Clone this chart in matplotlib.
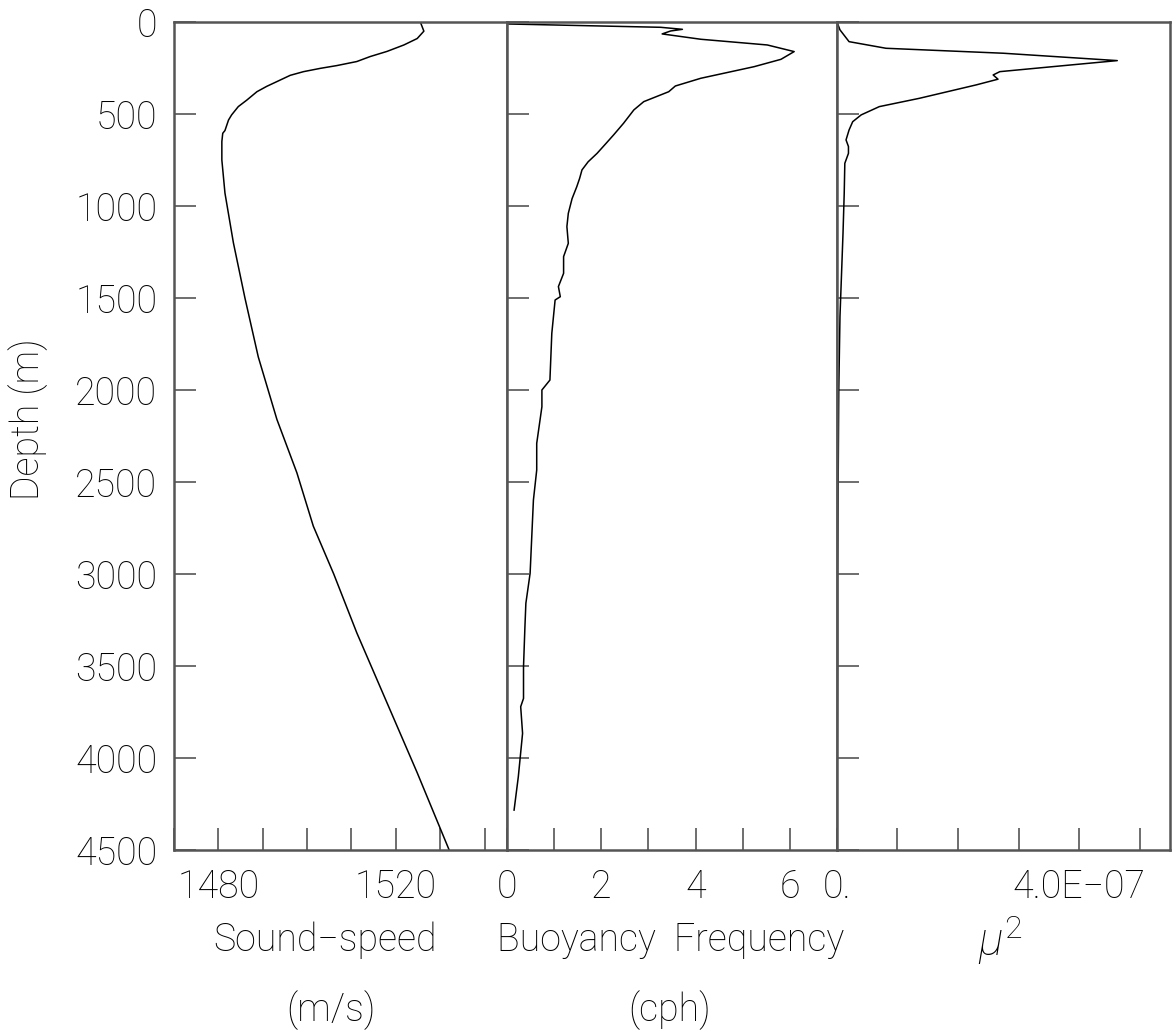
import numpy as np
import matplotlib
matplotlib.use("Agg")
import matplotlib.pyplot as plt

# sound-speed profile (m/s)
c_depth = [0, 50, 90, 125, 160, 188, 215, 237, 252, 270, 290, 324, 350, 379,
           425, 460, 505, 533, 590, 605, 650, 750, 930, 1200, 1500, 1820,
           2160, 2450, 2740, 3000, 3320, 3700, 4080, 4500]
c_speed = [1525.5, 1526.3, 1524.8, 1521.8, 1518.0, 1514.2, 1511.2, 1506.7,
           1503.0, 1499.2, 1496.2, 1493.2, 1490.9, 1488.7, 1486.4, 1484.5,
           1483.0, 1482.3, 1481.5, 1481.0, 1480.8, 1480.8, 1481.5, 1483.4,
           1486.0, 1489.0, 1493.2, 1497.7, 1501.4, 1506.0, 1511.2, 1518.0,
           1524.8, 1532.0]

# buoyancy frequency (cph)
n_depth = [0, 11, 29, 40, 49, 65, 94, 125, 161, 203, 243, 306, 348, 379, 433,
           478, 551, 614, 660, 714, 760, 804, 850, 895, 960, 1040, 1112, 1203,
           1275, 1366, 1438, 1493, 1511, 1692, 1946, 2000, 2091, 2290, 2435,
           2598, 2996, 3159, 3286, 3504, 3676, 3721, 3866, 4101, 4283]
n_freq = [0.0, 0.03, 3.26, 3.72, 3.47, 3.29, 4.11, 5.52, 6.09, 5.81, 5.24,
          4.11, 3.57, 3.43, 2.90, 2.69, 2.47, 2.26, 2.10, 1.91, 1.72, 1.59,
          1.54, 1.48, 1.38, 1.30, 1.27, 1.30, 1.20, 1.20, 1.09, 1.13, 1.02,
          0.95, 0.91, 0.74, 0.74, 0.63, 0.63, 0.56, 0.49, 0.40, 0.38, 0.35,
          0.35, 0.29, 0.33, 0.24, 0.15]

# mu^2
m_depth = [0, 43, 107, 143, 170, 210, 234, 270, 288, 311, 342, 415, 460, 505,
           542, 587, 641, 677, 714, 768, 931, 1149, 1330, 1600, 2000, 2500,
           3000, 3500, 4000, 4300]
m_mu2 = [0.0, 0.05e-7, 0.20e-7, 0.81e-7, 2.75e-7, 4.63e-7, 3.85e-7, 2.69e-7,
         2.58e-7, 2.66e-7, 2.30e-7, 1.36e-7, 0.70e-7, 0.40e-7, 0.26e-7,
         0.20e-7, 0.15e-7, 0.19e-7, 0.19e-7, 0.13e-7, 0.12e-7, 0.10e-7,
         0.08e-7, 0.05e-7, 0.03e-7, 0.02e-7, 0.01e-7, 0.01e-7, 0.005e-7, 0.0]

depth_ticks = np.arange(0, 4501, 500)

plt.rcParams['font.family'] = ['Roboto', 'DejaVu Sans']
plt.rcParams['font.weight'] = 'light'
plt.rcParams['mathtext.fontset'] = 'custom'
plt.rcParams['mathtext.it'] = 'Roboto:italic:light'
plt.rcParams['mathtext.rm'] = 'Roboto:light'
fs = 27
spine_col = '#555555'

fig = plt.figure(figsize=(11.75, 10.36), dpi=100)
bottom, height = 0.1795, 0.7993
ax1 = fig.add_axes([0.148, bottom, 0.2834, height])
ax2 = fig.add_axes([0.4315, bottom, 0.2809, height])
ax3 = fig.add_axes([0.7123, bottom, 0.2834, height])

for ax in (ax1, ax2, ax3):
    ax.set_ylim(4500, 0)
    ax.set_yticks(depth_ticks)
    for s in ax.spines.values():
        s.set_color(spine_col)
        s.set_linewidth(1.8)
    ax.tick_params(axis='both', direction='in', length=16, width=1.2,
                   color=spine_col, labelsize=fs)
    ax.tick_params(axis='y', pad=12)
    ax.tick_params(axis='x', pad=13)

ax1.plot(c_speed, c_depth, color='black', lw=1.1)
ax1.set_xlim(1470, 1545)
ax1.set_xticks(np.arange(1470, 1541, 10))
ax1.set_xticklabels(['', '1480', '', '', '', '1520', '', ''])
ax1.set_yticklabels([str(d) for d in depth_ticks])

ax2.plot(n_freq, n_depth, color='black', lw=1.1)
ax2.set_xlim(0, 7)
ax2.set_xticks(np.arange(0, 8, 1))
ax2.set_xticklabels(['0', '', '2', '', '4', '', '6', ''])
ax2.set_yticklabels([])

ax3.plot(m_mu2, m_depth, color='black', lw=1.1)
ax3.set_xlim(0, 5.5e-7)
ax3.set_xticks(np.arange(0, 5.1e-7, 1e-7))
ax3.set_xticklabels(['0.', '', '', '', '4.0E\u221207', ''])
ax3.set_yticklabels([])

fig.text(0.024, 0.595, 'Depth (m)', rotation=90, ha='center', va='center',
         fontsize=fs)
fig.text(0.277, 0.092, 'Sound\u2212speed', ha='center', va='center', fontsize=fs)
fig.text(0.282, 0.025, '(m/s)', ha='center', va='center', fontsize=fs)
fig.text(0.571, 0.092, 'Buoyancy  Frequency', ha='center', va='center',
         fontsize=fs)
fig.text(0.570, 0.025, '(cph)', ha='center', va='center', fontsize=fs)
fig.text(0.851, 0.092, r'$\mu^2$', ha='center', va='center', fontsize=33)

fig.savefig('out.png', dpi=100)
